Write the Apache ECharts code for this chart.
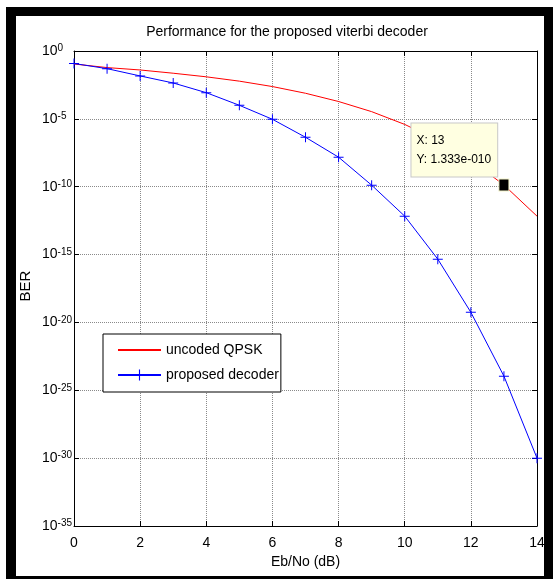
<!DOCTYPE html>
<html>
<head>
<meta charset="utf-8">
<script src="https://cdn.jsdelivr.net/npm/echarts@6/dist/echarts.min.js"></script>
<style>
html, body { margin: 0; padding: 0; background: #fff; }
#chart { width: 553px; height: 579px; }
</style>
</head>
<body>
<div id="chart"></div>
<script>
// Eb/No in dB
const ebno = [0, 1, 2, 3, 4, 5, 6, 7, 8, 9, 10, 11, 12, 13, 14]
// BER
const uncodedQpsk = [1.1e-1, 6e-2, 4e-2, 2.3e-2, 1.25e-2, 6e-3, 2.4e-3, 7.7e-4, 1.9e-4, 3.4e-5, 3.9e-6, 2.6e-7, 9e-9, 1.333e-10, 6.8e-13]
const proposedDecoder = [1.2e-1, 5e-2, 1.45e-2, 4.4e-3, 8.5e-4, 1e-4, 9.3e-6, 4.4e-7, 1.5e-8, 1.3e-10, 6.8e-13, 4.6e-16, 5.6e-20, 1.1e-24, 1e-30]
const xTicks = [0, 2, 4, 6, 8, 10, 12, 14]
const yExponents = [0, -5, -10, -15, -20, -25, -30, -35]
const seriesNames = ['uncoded QPSK', 'proposed decoder']
// data tip
const tipIndex = 13

const FONT = '"Liberation Sans", Arial, sans-serif'
const PLUS = 'path://M4.5,0H5.5V4.5H10V5.5H5.5V10H4.5V5.5H0V4.5H4.5Z'

function matlabExp(v) {
    // 1.333e-10 -> 1.333e-010
    let s = v.toExponential(3)
    let parts = s.split('e')
    let sign = parts[1][0]
    let digits = parts[1].slice(1)
    while (digits.length < 3) digits = '0' + digits
    return parts[0] + 'e' + sign + digits
}

const chart = echarts.init(document.getElementById('chart'))

const eMin = Math.min(...yExponents)
const eMax = Math.max(...yExponents)
const yMin = Math.pow(10, eMin)
const yMax = Math.pow(10, eMax)

const gridLine = { show: true, lineStyle: { color: '#8a8a8a', type: [1, 1], width: 1 } }
const tick = { show: true, inside: true, length: 5, lineStyle: { color: '#000' } }
const line = { show: true, onZero: false, lineStyle: { color: '#000', width: 1 } }

const option = {
    animation: false,
    backgroundColor: '#fff',
    textStyle: { fontFamily: FONT },
    title: {
        text: 'Performance for the proposed viterbi decoder',
        left: 287,
        top: 25,
        textAlign: 'center',
        padding: 0,
        textStyle: { fontFamily: FONT, fontSize: 14, fontWeight: 'normal', color: '#000' }
    },
    grid: { left: 74, right: 16, top: 51, bottom: 53, containLabel: false, outerBoundsMode: 'none' },
    legend: {
        data: [
            { name: seriesNames[0], itemStyle: { opacity: 0 } },
            { name: seriesNames[1] }
        ],
        orient: 'vertical',
        left: 103,
        top: 334,
        itemWidth: 43,
        itemHeight: 14,
        itemGap: 11,
        padding: [9, 2, 10, 14],
        backgroundColor: '#fff',
        borderColor: '#000',
        borderWidth: 1,
        borderRadius: 0,
        selectedMode: false,
        textStyle: { fontFamily: FONT, fontSize: 14, lineHeight: 14, color: '#000' }
    },
    xAxis: [
        {
            type: 'value',
            min: xTicks[0],
            max: xTicks[xTicks.length - 1],
            interval: 2,
            name: 'Eb/No (dB)',
            nameLocation: 'middle',
            nameGap: 29,
            nameTextStyle: { fontFamily: FONT, fontSize: 14, color: '#000' },
            axisLine: line,
            axisTick: tick,
            splitLine: gridLine,
            axisLabel: { fontFamily: FONT, fontSize: 14, color: '#000', margin: 10 }
        },
        {
            type: 'value',
            position: 'top',
            min: xTicks[0],
            max: xTicks[xTicks.length - 1],
            interval: 2,
            axisLine: line,
            axisTick: tick,
            splitLine: { show: false },
            axisLabel: { show: false }
        }
    ],
    yAxis: [
        {
            // BER scale used by the series
            type: 'log',
            logBase: 10,
            min: yMin,
            max: yMax,
            interval: 5,
            axisLine: line,
            axisTick: tick,
            splitLine: gridLine,
            axisLabel: { show: false }
        },
        {
            type: 'log',
            logBase: 10,
            position: 'right',
            min: yMin,
            max: yMax,
            interval: 5,
            axisLine: line,
            axisTick: tick,
            splitLine: { show: false },
            axisLabel: { show: false }
        },
        {
            // decade labels 10^n
            type: 'value',
            position: 'left',
            min: eMin,
            max: eMax,
            interval: 5,
            axisLine: { show: false },
            axisTick: { show: false },
            splitLine: { show: false },
            axisLabel: {
                align: 'left',
                margin: 32,
                showMinLabel: true,
                showMaxLabel: true,
                formatter: function (e) {
                    return '{b|10}{e|' + e + '}'
                },
                rich: {
                    b: { fontFamily: FONT, fontSize: 14, lineHeight: 15, verticalAlign: 'middle', color: '#000' },
                    e: { fontFamily: FONT, fontSize: 10, lineHeight: 11, padding: [0, 0, 19, 0], verticalAlign: 'top', color: '#000' }
                }
            }
        }
    ],
    series: [
        {
            name: seriesNames[0],
            type: 'line',
            data: ebno.map((x, i) => [x, uncodedQpsk[i]]),
            symbol: 'none',
            lineStyle: { color: '#ff0000', width: 1 },
            itemStyle: { color: '#ff0000' },
            z: 3,
            markPoint: {
                silent: true,
                symbol: 'rect',
                symbolSize: [10, 12],
                itemStyle: { color: '#000', borderColor: '#f4f4c8', borderWidth: 1 },
                data: [{ coord: [ebno[tipIndex], uncodedQpsk[tipIndex]], value: uncodedQpsk[tipIndex] }],
                label: {
                    show: true,
                    position: [-87, -55],
                    align: 'left',
                    verticalAlign: 'top',
                    formatter: function () {
                        return 'X: ' + ebno[tipIndex] + '\nY: ' + matlabExp(uncodedQpsk[tipIndex])
                    },
                    fontFamily: FONT,
                    fontSize: 12,
                    lineHeight: 19,
                    color: '#000',
                    backgroundColor: '#ffffe1',
                    borderColor: '#c8c8c8',
                    borderWidth: 1,
                    padding: [8, 6, 7, 5]
                }
            }
        },
        {
            name: seriesNames[1],
            type: 'line',
            data: ebno.map((x, i) => [x, proposedDecoder[i]]),
            symbol: PLUS,
            symbolSize: 10,
            showSymbol: true,
            lineStyle: { color: '#0000ff', width: 1 },
            itemStyle: { color: '#0000ff' },
            z: 4
        }
    ],
    graphic: [
        // black figure frame
        { type: 'rect', shape: { x: 6, y: 7, width: 547, height: 9 }, style: { fill: '#000' }, silent: true },
        { type: 'rect', shape: { x: 6, y: 7, width: 10, height: 572 }, style: { fill: '#000' }, silent: true },
        { type: 'rect', shape: { x: 544, y: 7, width: 9, height: 572 }, style: { fill: '#000' }, silent: true },
        { type: 'rect', shape: { x: 6, y: 576, width: 547, height: 3 }, style: { fill: '#000' }, silent: true },
        // y axis title
        {
            type: 'text', x: 26, y: 286, rotation: Math.PI / 2, silent: true,
            style: { text: 'BER', font: '15px "Liberation Sans", Arial, sans-serif', fill: '#000', align: 'center', verticalAlign: 'middle' }
        }
    ]
}

chart.setOption(option)
</script>
</body>
</html>
